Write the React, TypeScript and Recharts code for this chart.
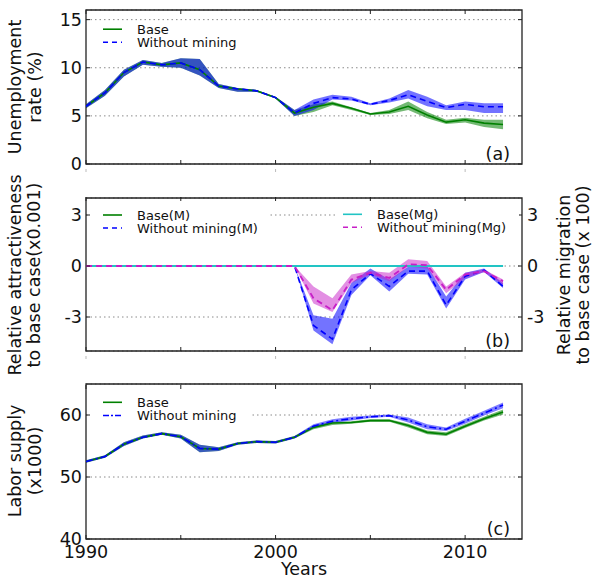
import React from 'react';
import { ComposedChart, Line, Area, XAxis, YAxis, CartesianGrid, ReferenceArea } from 'recharts';

const years = [1990, 1991, 1992, 1993, 1994, 1995, 1996, 1997, 1998, 1999, 2000, 2001, 2002, 2003, 2004, 2005, 2006, 2007, 2008, 2009, 2010, 2011, 2012];
const xTicks = [1990, 1995, 2000, 2005, 2010];

// (a) Unemployment rate (%)
const uBase = [6.0, 7.4, 9.5, 10.6, 10.3, 10.5, 9.8, 8.1, 7.8, 7.6, 6.9, 5.3, 5.9, 6.3, 5.8, 5.2, 5.4, 6.0, 5.1, 4.35, 4.6, 4.25, 4.1];
const uBaseLo = [5.8, 7.1, 9.1, 10.3, 10.1, 10.0, 9.2, 7.9, 7.5, 7.5, 6.8, 5.0, 5.4, 6.1, 5.6, 5.1, 5.2, 5.6, 4.75, 4.15, 4.3, 3.85, 3.6];
const uBaseHi = [6.2, 7.7, 9.8, 10.8, 10.5, 11.0, 10.9, 8.3, 7.9, 7.7, 7.0, 5.6, 6.2, 6.5, 5.9, 5.3, 5.6, 6.5, 5.4, 4.6, 4.8, 4.6, 4.6];
const uNoMin = [6.0, 7.4, 9.5, 10.6, 10.3, 10.5, 9.8, 8.1, 7.8, 7.6, 6.9, 5.3, 6.3, 6.9, 6.75, 6.2, 6.6, 7.2, 6.5, 5.85, 6.2, 5.95, 5.95];
const uNoMinLo = [5.8, 7.1, 9.1, 10.3, 10.1, 10.0, 9.2, 7.9, 7.5, 7.5, 6.8, 5.0, 5.6, 6.7, 6.6, 6.1, 6.4, 6.8, 6.0, 5.6, 5.6, 5.3, 5.3];
const uNoMinHi = [6.2, 7.7, 9.8, 10.8, 10.5, 11.0, 10.9, 8.3, 7.9, 7.7, 7.0, 5.6, 6.7, 7.2, 7.0, 6.3, 6.8, 7.7, 7.0, 6.1, 6.5, 6.3, 6.3];

// (b) Relative attractiveness (M) and relative migration (Mg)
const attrBase = [0, 0, 0, 0, 0, 0, 0, 0, 0, 0, 0, 0, 0, 0, 0, 0, 0, 0, 0, 0, 0, 0, 0];
const attrNoMin = [0, 0, 0, 0, 0, 0, 0, 0, 0, 0, 0, 0, -3.5, -4.3, -1.4, -0.45, -1.2, -0.3, -0.3, -2.3, -0.6, -0.25, -1.2];
const attrNoMinLo = [0, 0, 0, 0, 0, 0, 0, 0, 0, 0, 0, 0, -3.8, -4.6, -1.7, -0.55, -1.5, -0.45, -0.5, -2.5, -0.8, -0.35, -1.3];
const attrNoMinHi = [0, 0, 0, 0, 0, 0, 0, 0, 0, 0, 0, 0, -2.9, -3.1, -1.0, -0.15, -0.8, -0.05, 0.0, -1.8, -0.4, -0.15, -1.0];
const migBase = [0, 0, 0, 0, 0, 0, 0, 0, 0, 0, 0, 0, 0, 0, 0, 0, 0, 0, 0, 0, 0, 0, 0];
const migNoMin = [0, 0, 0, 0, 0, 0, 0, 0, 0, 0, 0, 0, -1.9, -2.6, -0.8, -0.4, -0.7, 0.1, 0.05, -1.4, -0.5, -0.3, -0.9];
const migNoMinLo = [0, 0, 0, 0, 0, 0, 0, 0, 0, 0, 0, 0, -2.2, -2.7, -1.0, -0.5, -0.9, -0.05, -0.15, -1.6, -0.7, -0.35, -1.1];
const migNoMinHi = [0, 0, 0, 0, 0, 0, 0, 0, 0, 0, 0, 0, -1.2, -1.9, -0.5, -0.3, -0.4, 0.4, 0.3, -1.2, -0.4, -0.2, -0.8];

// (c) Labor supply (x1000)
const lBase = [52.5, 53.3, 55.3, 56.4, 57.0, 56.5, 54.6, 54.5, 55.4, 55.7, 55.6, 56.4, 58.0, 58.7, 58.8, 59.1, 59.1, 58.3, 57.2, 56.9, 58.2, 59.4, 60.5];
const lBaseLo = [52.3, 53.1, 55.0, 56.2, 56.8, 56.2, 54.0, 54.2, 55.2, 55.5, 55.4, 56.2, 57.7, 58.4, 58.6, 58.9, 58.9, 58.0, 56.9, 56.6, 57.9, 59.1, 60.1];
const lBaseHi = [52.7, 53.5, 55.6, 56.7, 57.2, 56.8, 55.2, 54.8, 55.6, 55.9, 55.8, 56.6, 58.3, 58.9, 59.0, 59.3, 59.3, 58.6, 57.5, 57.2, 58.5, 59.7, 60.9];
const lNoMin = [52.5, 53.3, 55.3, 56.4, 57.0, 56.5, 54.6, 54.5, 55.4, 55.7, 55.6, 56.4, 58.2, 59.0, 59.4, 59.7, 59.9, 59.2, 58.1, 57.7, 59.0, 60.3, 61.6];
const lNoMinLo = [52.3, 53.1, 55.0, 56.2, 56.8, 56.2, 54.0, 54.2, 55.2, 55.5, 55.4, 56.2, 57.9, 58.7, 59.1, 59.5, 59.7, 58.8, 57.7, 57.4, 58.6, 59.9, 61.1];
const lNoMinHi = [52.7, 53.5, 55.6, 56.7, 57.2, 56.8, 55.2, 54.8, 55.6, 55.9, 55.8, 56.6, 58.5, 59.3, 59.7, 59.9, 60.1, 59.6, 58.5, 58.0, 59.4, 60.7, 62.0];

const rows = years.map((year, i) => ({
  year,
  uBase: uBase[i], uBaseBand: [uBaseLo[i], uBaseHi[i]],
  uNoMin: uNoMin[i], uNoMinBand: [uNoMinLo[i], uNoMinHi[i]],
  attrBase: attrBase[i], attrNoMin: attrNoMin[i], attrBand: [attrNoMinLo[i], attrNoMinHi[i]],
  migBase: migBase[i], migNoMin: migNoMin[i], migBand: [migNoMinLo[i], migNoMinHi[i]],
  lBase: lBase[i], lBaseBand: [lBaseLo[i], lBaseHi[i]],
  lNoMin: lNoMin[i], lNoMinBand: [lNoMinLo[i], lNoMinHi[i]],
}));

const FONT = '"DejaVu Sans", sans-serif';
const PLOT_W = 436;
const PLOT_H = 154;
const GREEN = '#008000';
const BLUE = '#0000ff';
const CYAN = '#22c4c4';
const MAGENTA = '#c71fc7';
const FRAME = '#222';

const makeXTick = (labels: boolean, ghost: boolean) => (props: any) => {
  const { x, y, payload } = props;
  const v = payload.value;
  const major = v % 10 === 0;
  return (
    <g>
      <line x1={x} x2={x} y1={y} y2={y - 4} stroke={FRAME} strokeWidth={1} />
      <line x1={x} x2={x} y1={y - PLOT_H} y2={y - PLOT_H + 4} stroke={FRAME} strokeWidth={1} />
      {ghost && major && <line x1={x} x2={x} y1={y + 5} y2={y + 8} stroke="#bbb" strokeWidth={1} />}
      {labels && major && (
        <text x={x} y={y + 19} textAnchor="middle" fontSize={17.5} fontFamily={FONT} fill="#111">{v}</text>
      )}
    </g>
  );
};

const LeftYTick = (props: any) => {
  const { x, y, payload } = props;
  return (
    <g>
      <line x1={x} x2={x + 4} y1={y} y2={y} stroke={FRAME} strokeWidth={1} />
      <line x1={x + PLOT_W - 4} x2={x + PLOT_W} y1={y} y2={y} stroke={FRAME} strokeWidth={1} />
      <text x={x - 4} y={y} dy="0.36em" textAnchor="end" fontSize={17.5} fontFamily={FONT} fill="#111">{payload.value}</text>
    </g>
  );
};

const RightYTick = (props: any) => {
  const { x, y, payload } = props;
  return (
    <g>
      <text x={x + 5} y={y} dy="0.36em" textAnchor="start" fontSize={17.5} fontFamily={FONT} fill="#111">{payload.value}</text>
    </g>
  );
};

const gridProps = { vertical: false, stroke: '#8a8a8a', strokeDasharray: '1.5 3' };

const PanelA = () => (
  <ComposedChart width={593} height={174} data={rows} margin={{ top: 10, right: 71, bottom: 0, left: 0 }}>
    <CartesianGrid {...gridProps} />
    <XAxis dataKey="year" type="number" domain={[1990, 2013]} ticks={xTicks} interval={0} height={10}
      axisLine={false} tickLine={false} tickSize={0} tickMargin={0} tick={makeXTick(false, true)} allowDataOverflow />
    <YAxis type="number" domain={[0, 16]} ticks={[0, 5, 10, 15]} interval={0} width={86}
      axisLine={false} tickLine={false} tickSize={0} tickMargin={0} tick={LeftYTick} allowDataOverflow />
    <Area type="linear" dataKey="uBaseBand" stroke="none" fill={GREEN} fillOpacity={0.55} isAnimationActive={false} />
    <Area type="linear" dataKey="uNoMinBand" stroke="none" fill={BLUE} fillOpacity={0.55} isAnimationActive={false} />
    <Line type="linear" dataKey="uBase" stroke={GREEN} strokeWidth={1.6} dot={false} isAnimationActive={false} />
    <Line type="linear" dataKey="uNoMin" stroke={BLUE} strokeWidth={1.6} strokeDasharray="6 4" dot={false} isAnimationActive={false} />
    <ReferenceArea x1={1990} x2={2013} y1={0} y2={16} fill="none" stroke={FRAME} strokeWidth={1.3} ifOverflow="visible" />
  </ComposedChart>
);

const PanelB = () => (
  <ComposedChart width={593} height={173} data={rows} margin={{ top: 10, right: 0, bottom: 0, left: 0 }}>
    <CartesianGrid {...gridProps} yAxisId="left" />
    <XAxis dataKey="year" type="number" domain={[1990, 2013]} ticks={xTicks} interval={0} height={10}
      axisLine={false} tickLine={false} tickSize={0} tickMargin={0} tick={makeXTick(false, true)} allowDataOverflow />
    <YAxis yAxisId="left" type="number" domain={[-5, 4]} ticks={[-3, 0, 3]} interval={0} width={86}
      axisLine={false} tickLine={false} tickSize={0} tickMargin={0} tick={LeftYTick} allowDataOverflow />
    <YAxis yAxisId="right" orientation="right" type="number" domain={[-5, 4]} ticks={[-3, 0, 3]} interval={0} width={71}
      axisLine={false} tickLine={false} tickSize={0} tickMargin={0} tick={RightYTick} allowDataOverflow />
    <Area yAxisId="left" type="linear" dataKey="attrBand" stroke="none" fill={BLUE} fillOpacity={0.55} isAnimationActive={false} />
    <Area yAxisId="right" type="linear" dataKey="migBand" stroke="none" fill={MAGENTA} fillOpacity={0.5} isAnimationActive={false} />
    <Line yAxisId="left" type="linear" dataKey="attrBase" stroke={GREEN} strokeWidth={1.6} dot={false} isAnimationActive={false} />
    <Line yAxisId="left" type="linear" dataKey="attrNoMin" stroke={BLUE} strokeWidth={1.6} strokeDasharray="6 4" dot={false} isAnimationActive={false} />
    <Line yAxisId="right" type="linear" dataKey="migBase" stroke={CYAN} strokeWidth={2} dot={false} isAnimationActive={false} />
    <Line yAxisId="right" type="linear" dataKey="migNoMin" stroke={MAGENTA} strokeWidth={1.8} strokeDasharray="6 4" dot={false} isAnimationActive={false} />
    <ReferenceArea yAxisId="left" x1={1990} x2={2013} y1={-5} y2={4} fill="none" stroke={FRAME} strokeWidth={1.3} ifOverflow="visible" />
  </ComposedChart>
);

const PanelC = () => (
  <ComposedChart width={593} height={202} data={rows} margin={{ top: 10, right: 71, bottom: 0, left: 0 }}>
    <CartesianGrid {...gridProps} />
    <XAxis dataKey="year" type="number" domain={[1990, 2013]} ticks={xTicks} interval={0} height={37}
      axisLine={false} tickLine={false} tickSize={0} tickMargin={0} tick={makeXTick(true, false)} allowDataOverflow />
    <YAxis type="number" domain={[40, 65]} ticks={[40, 50, 60]} interval={0} width={86}
      axisLine={false} tickLine={false} tickSize={0} tickMargin={0} tick={LeftYTick} allowDataOverflow />
    <Area type="linear" dataKey="lBaseBand" stroke="none" fill={GREEN} fillOpacity={0.55} isAnimationActive={false} />
    <Area type="linear" dataKey="lNoMinBand" stroke="none" fill={BLUE} fillOpacity={0.5} isAnimationActive={false} />
    <Line type="linear" dataKey="lBase" stroke={GREEN} strokeWidth={1.6} dot={false} isAnimationActive={false} />
    <Line type="linear" dataKey="lNoMin" stroke={BLUE} strokeWidth={1.6} strokeDasharray="7 3 2 3" dot={false} isAnimationActive={false} />
    <ReferenceArea x1={1990} x2={2013} y1={40} y2={65} fill="none" stroke={FRAME} strokeWidth={1.3} ifOverflow="visible" />
  </ComposedChart>
);

const LegendRow = ({ x, y, color, dash, label }: { x: number; y: number; color: string; dash?: string; label: string }) => (
  <g>
    <line x1={x} x2={x + 19} y1={y} y2={y} stroke={color} strokeWidth={1.6} strokeDasharray={dash} />
    <text x={x + 34} y={y + 4.5} fontSize={13} fontFamily={FONT} fill="#111">{label}</text>
  </g>
);

const VTitle = ({ x, y, text }: { x: number; y: number; text: string }) => (
  <text transform={`translate(${x},${y}) rotate(-90)`} textAnchor="middle" fontSize={17.5} fontFamily={FONT} fill="#111">{text}</text>
);

const Overlay = () => (
  <svg width={593} height={576} style={{ position: 'absolute', left: 0, top: 0, pointerEvents: 'none' }}>
    {/* legends */}
    <rect x={90} y={22} width={160} height={28} fill="#fff" />
    <LegendRow x={103} y={29.2} color={GREEN} label="Base" />
    <LegendRow x={103} y={42.2} color={BLUE} dash="5 4" label="Without mining" />

    <rect x={90} y={205} width={178} height={32} fill="#fff" />
    <LegendRow x={103} y={215} color={GREEN} label="Base(M)" />
    <LegendRow x={103} y={228} color={BLUE} dash="5 4" label="Without mining(M)" />
    <rect x={335} y={205} width={184} height={32} fill="#fff" />
    <LegendRow x={343} y={214.3} color={CYAN} label="Base(Mg)" />
    <LegendRow x={343} y={227.3} color={MAGENTA} dash="5 4" label="Without mining(Mg)" />

    <rect x={90} y={394} width={160} height={30} fill="#fff" />
    <LegendRow x={103} y={402.3} color={GREEN} label="Base" />
    <LegendRow x={103} y={415.5} color={BLUE} dash="6 2 2 2" label="Without mining" />

    {/* panel labels */}
    <text x={510} y={159.5} textAnchor="end" fontSize={17.5} fontFamily={FONT} fill="#111">(a)</text>
    <text x={510} y={346.5} textAnchor="end" fontSize={17.5} fontFamily={FONT} fill="#111">(b)</text>
    <text x={510} y={534.5} textAnchor="end" fontSize={17.5} fontFamily={FONT} fill="#111">(c)</text>

    {/* axis titles */}
    <VTitle x={21} y={87} text="Unemployment" />
    <VTitle x={41} y={87} text="rate (%)" />
    <VTitle x={21} y={275} text="Relative attractiveness" />
    <VTitle x={40} y={275} text="to base case(x0.001)" />
    <VTitle x={570} y={275} text="Relative migration" />
    <VTitle x={589} y={275} text="to base case (x 100)" />
    <VTitle x={21} y={461} text="Labor supply" />
    <VTitle x={41} y={461} text="(x1000)" />
    <text x={304} y={575} textAnchor="middle" fontSize={17.5} fontFamily={FONT} fill="#111">Years</text>
  </svg>
);

export default function App() {
  return (
    <div style={{ position: 'absolute', left: 0, top: 0, width: 593, height: 576, background: '#fff', overflow: 'hidden' }}>
      <div style={{ position: 'absolute', left: 0, top: 0 }}><PanelA /></div>
      <div style={{ position: 'absolute', left: 0, top: 188 }}><PanelB /></div>
      <div style={{ position: 'absolute', left: 0, top: 374 }}><PanelC /></div>
      <Overlay />
    </div>
  );
}
